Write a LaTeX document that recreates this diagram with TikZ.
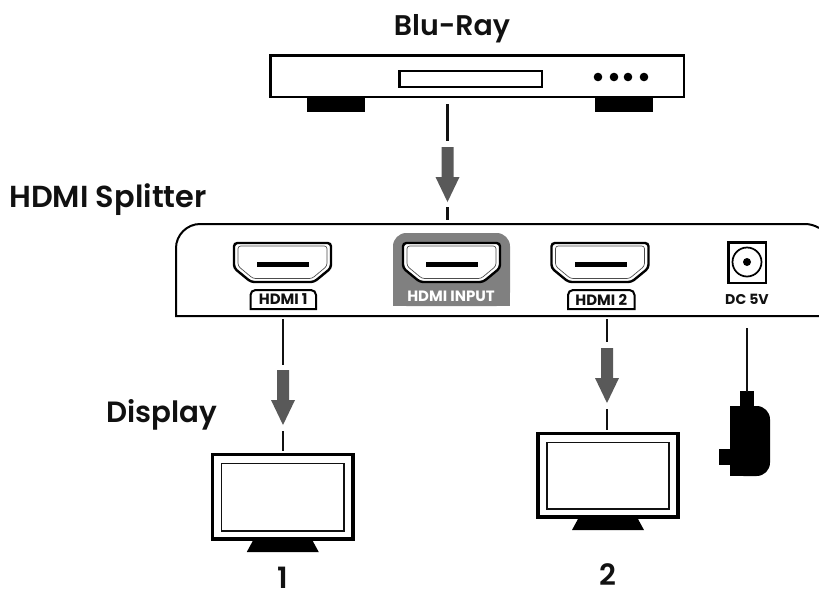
\documentclass[tikz,border=0pt]{standalone}
\usepackage{fontspec}
\setmainfont{Poppins}[BoldFont={Poppins SemiBold}]
\newfontfamily\labfont{Poppins Bold}
\definecolor{arrowgrey}{HTML}{595959}
\definecolor{labelgrey}{HTML}{808080}
\definecolor{inkblack}{HTML}{111111}
\tikzset{
  title/.style={font=\fontsize{22pt}{24pt}\selectfont\bfseries,text=inkblack,inner sep=0pt,anchor=base},
  portlabel/.style={font=\fontsize{11.2pt}{12pt}\selectfont\labfont,text=inkblack,inner sep=0pt,anchor=center},
  conn/.style={draw=inkblack,line width=1.6pt},
  thick box/.style={draw=black,line width=2pt,fill=white},
  thin box/.style={draw=inkblack,line width=1.1pt,fill=white},
  flow/.style={fill=arrowgrey,draw=none},
}
\newcommand{\hdmiport}[1]{%
  \begin{scope}[shift={(#1,0)}]
    \draw[black,line width=1.8pt,fill=white,rounded corners=2.5pt]
      (0,243) -- (97,243) -- (97,268) -- (80,282) -- (17,282) -- (0,268) -- cycle;
    \draw[inkblack!75,line width=.5pt,rounded corners=2pt]
      (4,246) -- (93,246) -- (93,266) -- (78,278.5) -- (19,278.5) -- (4,266) -- cycle;
    \fill[black] (23,262) rectangle (75,267);
  \end{scope}}
\newcommand{\portbadge}[3]{%
  \draw[black,line width=1.5pt,fill=white] (#1,309) -- (#1,295) to[out=90,in=180] (#1+5,290) -- (#2-5,290) to[out=0,in=90] (#2,295) -- (#2,309) -- cycle;
  \node[portlabel] at ({(#1+#2)/2},299.5) {#3};}
\newcommand{\flowarrow}[3]{% centre x, top y, tip y
  \fill[flow] (#1-6,#2) -- (#1+6,#2) -- (#1+6,#3-25) -- (#1+12,#3-25) -- (#1,#3) -- (#1-12,#3-25) -- (#1-6,#3-25) -- cycle;}
\newcommand{\monitor}[4]{% x0 x1 y0 y1
  \draw[thick box,line width=2.6pt] (#1,#3) rectangle (#2,#4);
  \draw[thin box] (#1+9,#3+9) rectangle (#2-9,#4-8);
  \fill[black] ({(#1+#2)/2-30},#4+2) -- ({(#1+#2)/2+30},#4+2) -- ({(#1+#2)/2+36},#4+13) -- ({(#1+#2)/2-36},#4+13) -- cycle;}
\begin{document}
\begin{tikzpicture}[x=0.75pt,y=-0.75pt]
\useasboundingbox (0,0) rectangle (819,594);
% titles
\node[title,font=\fontsize{21.3pt}{24pt}\selectfont\bfseries] (tblu) at (452,35) {Blu-Ray};
\node[title,font=\fontsize{22.8pt}{24pt}\selectfont\bfseries] (tspl) at (108,207) {HDMI Splitter};
\node[title] (tdis) at (162,422) {Display};
\node[title] (tone) at (283,588) {1};
\node[title] (ttwo) at (608,585) {2};
% blu-ray player
\fill[black] (307,97) rectangle (365,112);
\fill[black] (595,97) rectangle (653,112);
\draw[thick box,line width=2.2pt] (270.5,55.5) rectangle (684,97);
\draw[thick box,line width=1.8pt] (399.5,71) rectangle (542,87);
\foreach \dx in {598,614,628,644} \fill[black] (\dx,77) circle (4.3);
% splitter
\draw[black,line width=1.5pt,fill=white] (819,316) -- (176,316) -- (176,248) .. controls (176,235) and (187,224) .. (200,224) -- (805,224) .. controls (810,224) and (815,225.5) .. (819,228);
\fill[labelgrey,rounded corners=10pt] (393,306) -- (393,233) -- (510,233) -- (510,306) -- cycle;
\fill[labelgrey] (393,290) rectangle (510,306);
\hdmiport{234}
\hdmiport{403}
\hdmiport{551.5}
\portbadge{250.5}{316}{HDMI 1}
\portbadge{568}{634.5}{HDMI 2}
\node[portlabel,text=white] (inlab) at (451,296) {HDMI INPUT};
\draw[black,line width=1.6pt,fill=white] (728.5,242.5) rectangle (766,283);
\draw[black,line width=1.3pt] (747,262) circle (14.5);
\fill[black] (747,262) circle (4);
\node[portlabel,font=\fontsize{10.6pt}{12pt}\selectfont\labfont] (dclab) at (747,299) {DC 5V};
% monitors
\monitor{212.5}{353}{454.5}{539}
\monitor{538}{678}{433.5}{517}
% plug
\fill[black,rounded corners=10pt] (730,406) -- (770,406) -- (770,476) -- (730,476) -- cycle;
\fill[black] (730,406) rectangle (750,476);
\fill[black] (740,391) rectangle (754,410);
\fill[black] (719,449) rectangle (731,465);
% connector coordinates
\coordinate (blua) at (447.5,104);
\coordinate (blub) at (447.5,141);
\coordinate (inA) at (447.5,207);
\coordinate (inB) at (447.5,220);
\coordinate (o1a) at (283,319);
\coordinate (o1b) at (283,365);
\coordinate (d1a) at (283,431);
\coordinate (d1b) at (283,451);
\coordinate (o2a) at (607,319);
\coordinate (o2b) at (607,342);
\coordinate (d2a) at (607,409);
\coordinate (d2b) at (607,430);
\coordinate (pa) at (747,328);
\coordinate (pb) at (747,392);
\draw[conn] (blua) -- (blub);
\draw[conn] (inA) -- (inB);
\draw[conn] (o1a) -- (o1b);
\draw[conn] (d1a) -- (d1b);
\draw[conn] (o2a) -- (o2b);
\draw[conn] (d2a) -- (d2b);
\draw[conn] (pa) -- (pb);
\flowarrow{447.5}{147}{202}
\flowarrow{283}{370}{425}
\flowarrow{607}{348}{403}
\end{tikzpicture}
\end{document}
